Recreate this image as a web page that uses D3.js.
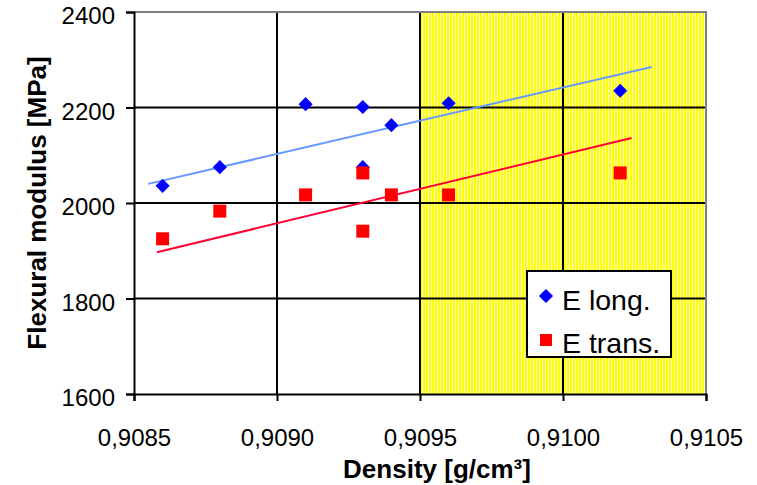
<!DOCTYPE html>
<html>
<head>
<meta charset="utf-8">
<script src="https://cdn.jsdelivr.net/npm/d3@7"></script>
<style>
  body { margin: 0; background: #fff; }
  text { font-family: Arial, "Liberation Sans", sans-serif; fill: #000; }
</style>
</head>
<body>
<svg id="chart" width="757" height="485"></svg>
<script>
var densityLong = [0.9086, 0.9088, 0.9091, 0.9093, 0.9093, 0.9094, 0.9096, 0.9102]
var modulusLong = [2036, 2075, 2207, 2201, 2075, 2163, 2209, 2235]
var densityTrans = [0.9086, 0.9088, 0.9091, 0.9093, 0.9093, 0.9094, 0.9096, 0.9102]
var modulusTrans = [1925, 1983, 2017, 2063, 1941, 2017, 2017, 2063]

// linear trend lines (end points)
var trendLongX = [0.90855, 0.91031], trendLongY = [2040, 2285]
var trendTransX = [0.90858, 0.91024], trendTransY = [1897, 2136]

var xTicks = [0.9085, 0.9090, 0.9095, 0.9100, 0.9105]
var yTicks = [1600, 1800, 2000, 2200, 2400]
var shadedRange = [0.9095, 0.9105]
var legendLabels = ['E long.', 'E trans.']

var svg = d3.select('#chart')
var plotLeft = 134, plotRight = 706, plotTop = 12, plotBottom = 394

var x = d3.scaleLinear().domain([0.9085, 0.9105]).range([plotLeft, plotRight])
var y = d3.scaleLinear().domain([1600, 2400]).range([plotBottom, plotTop])

// striped yellow fill
var pat = svg.append('defs').append('pattern')
  .attr('id', 'stripes').attr('patternUnits', 'userSpaceOnUse')
  .attr('width', 3).attr('height', 10)
pat.append('rect').attr('width', 3).attr('height', 10).attr('fill', '#ffffd0')
pat.append('rect').attr('width', 2).attr('height', 10).attr('fill', '#ffff00')

svg.append('rect')
  .attr('x', x(shadedRange[0])).attr('y', plotTop)
  .attr('width', x(shadedRange[1]) - x(shadedRange[0]))
  .attr('height', plotBottom - plotTop)
  .attr('fill', 'url(#stripes)')

// grid
var grid = svg.append('g')
yTicks.slice(1, -1).forEach((v) => {
  grid.append('line').attr('x1', plotLeft).attr('x2', plotRight)
    .attr('y1', y(v)).attr('y2', y(v))
    .attr('stroke', '#000').attr('stroke-width', 2)
})
xTicks.slice(1, -1).forEach((v) => {
  grid.append('line').attr('y1', plotTop).attr('y2', plotBottom)
    .attr('x1', x(v)).attr('x2', x(v))
    .attr('stroke', '#000').attr('stroke-width', 2)
})
// plot frame top / right
svg.append('path')
  .attr('d', 'M' + plotLeft + ',' + plotTop + 'H' + plotRight + 'V' + plotBottom)
  .attr('fill', 'none').attr('stroke', '#808080').attr('stroke-width', 2)

// axes
var xAxis = svg.append('g').attr('transform', 'translate(0,' + plotBottom + ')')
  .call(d3.axisBottom(x).tickValues(xTicks).tickSize(7).tickFormat(''))
var yAxis = svg.append('g').attr('transform', 'translate(' + plotLeft + ',0)')
  .call(d3.axisLeft(y).tickValues(yTicks).tickSize(8).tickFormat(''))
;[xAxis, yAxis].forEach((a) => {
  a.select('.domain').attr('stroke', '#000').attr('stroke-width', 2)
  a.selectAll('.tick line').attr('stroke', '#000').attr('stroke-width', 2)
})
var fmtX = (v) => v.toFixed(4).replace('.', ',')
xAxis.selectAll('.tick').append('text')
  .attr('y', 446 - plotBottom).attr('text-anchor', 'middle')
  .style('font-size', '24px').text((d) => fmtX(d))
yAxis.selectAll('.tick').append('text')
  .attr('x', -19).attr('y', 11.5).attr('text-anchor', 'end')
  .style('font-size', '24px').text((d) => d)

// axis titles
svg.append('text')
  .attr('x', 437).attr('y', 478).attr('text-anchor', 'middle')
  .style('font-size', '26px').style('font-weight', 'bold')
  .text('Density [g/cm³]')
svg.append('text')
  .attr('transform', 'translate(46,' + ((plotTop + plotBottom) / 2) + ') rotate(-90)')
  .attr('text-anchor', 'middle')
  .style('font-size', '26px').style('font-weight', 'bold')
  .text('Flexural modulus [MPa]')

// trend lines
var line = d3.line().x((d) => x(d[0])).y((d) => y(d[1]))
svg.append('path').datum(d3.zip(trendLongX, trendLongY))
  .attr('d', line).attr('fill', 'none')
  .attr('stroke', '#6699ff').attr('stroke-width', 2)
svg.append('path').datum(d3.zip(trendTransX, trendTransY))
  .attr('d', line).attr('fill', 'none')
  .attr('stroke', '#ff0033').attr('stroke-width', 2)

// markers
var diamond = d3.symbol().type(d3.symbolSquare).size(100)
svg.append('g').selectAll('path')
  .data(d3.zip(densityLong, modulusLong))
  .join('path')
  .attr('d', diamond)
  .attr('transform', (d) => 'translate(' + x(d[0]) + ',' + y(d[1]) + ') rotate(45)')
  .attr('fill', '#0000ff')
svg.append('g').selectAll('rect')
  .data(d3.zip(densityTrans, modulusTrans))
  .join('rect')
  .attr('x', (d) => x(d[0]) - 6.5).attr('y', (d) => y(d[1]) - 6.5)
  .attr('width', 13).attr('height', 13)
  .attr('fill', '#ff0000')

// legend
var lg = svg.append('g')
lg.append('rect').attr('x', 527).attr('y', 271).attr('width', 144).attr('height', 86)
  .attr('fill', '#fff').attr('stroke', '#000').attr('stroke-width', 2)
lg.append('path').attr('d', diamond)
  .attr('transform', 'translate(546,296) rotate(45)').attr('fill', '#0000ff')
lg.append('rect').attr('x', 540).attr('y', 334).attr('width', 12).attr('height', 12)
  .attr('fill', '#ff0000')
legendLabels.forEach((t, i) => {
  lg.append('text').attr('x', 562).attr('y', 310 + i * 43)
    .style('font-size', '28.5px').text(t)
})
</script>
</body>
</html>
